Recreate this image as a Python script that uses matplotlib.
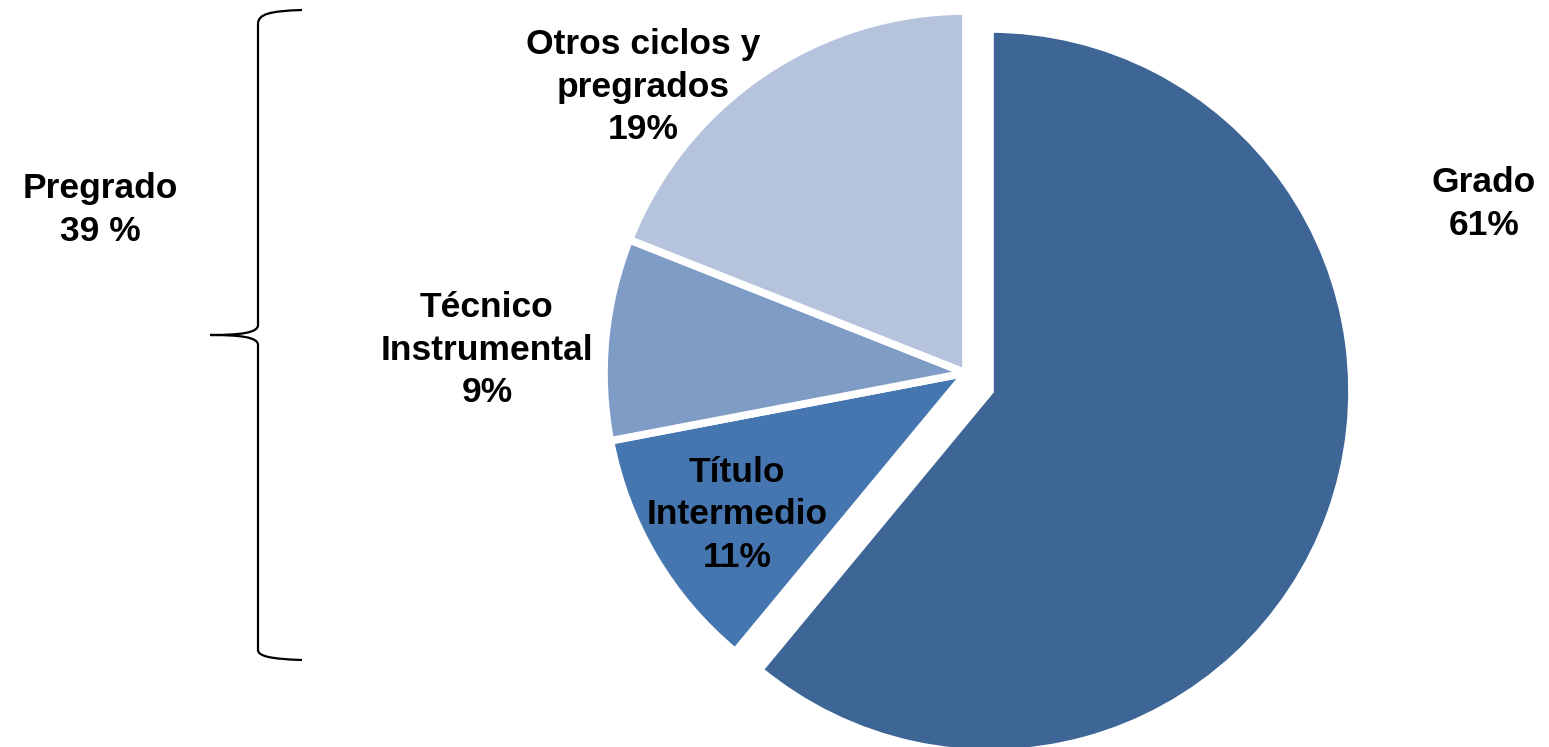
import matplotlib.pyplot as plt
from matplotlib.path import Path
from matplotlib.patches import PathPatch

plt.rcParams['font.family'] = ['Liberation Sans', 'DejaVu Sans']

# data
categorias = ['Grado', 'Título\nIntermedio', 'Técnico\nInstrumental', 'Otros ciclos y\npregrados']
valores = [61, 11, 9, 19]
colores = ['#3D6595', '#4676AF', '#7F9CC7', '#B5C3DD']
grupo_label = 'Pregrado'
grupo_valor = 39

W, H = 1549, 747
fig = plt.figure(figsize=(W / 100, H / 100), dpi=100)
ax = fig.add_axes([0, 0, 1, 1])

# pie in pixel units (y measured from the top of the image)
centro = (966, H - 373)
wedges, _ = ax.pie(valores, colors=colores, startangle=90, counterclock=False,
                   center=centro, radius=362,
                   wedgeprops=dict(edgecolor='white', linewidth=5.5),
                   frame=True)
# pull the "Grado" slice out
wedges[0].set_center((990, H - 391))

ax.set_xlim(0, W)
ax.set_ylim(0, H)
ax.set_aspect('equal')
ax.axis('off')

# label positions (pixel coords from top-left)
pos = [(1484, 204), (737, 515), (487, 350), (643, 87)]
for cat, v, (x, y) in zip(categorias, valores, pos):
    ax.text(x, H - y, f'{cat}\n{v}%', ha='center', va='center',
            fontsize=25.5, fontweight='bold', linespacing=1.38)

ax.text(100, H - 210, f'{grupo_label}\n{grupo_valor} %', ha='center', va='center',
        fontsize=25.5, fontweight='bold', linespacing=1.38)

# curly brace
def p(x, y):
    return (x, H - y)

verts = [p(302, 10), p(270, 11), p(258, 14), p(258, 24),
         p(258, 325),
         p(258, 333), p(240, 335), p(210, 335),
         p(240, 335), p(258, 337), p(258, 345),
         p(258, 650),
         p(258, 656), p(270, 659), p(302, 660)]
codes = [Path.MOVETO, Path.CURVE4, Path.CURVE4, Path.CURVE4,
         Path.LINETO,
         Path.CURVE4, Path.CURVE4, Path.CURVE4,
         Path.CURVE4, Path.CURVE4, Path.CURVE4,
         Path.LINETO,
         Path.CURVE4, Path.CURVE4, Path.CURVE4]
ax.add_patch(PathPatch(Path(verts, codes), facecolor='none', edgecolor='black', lw=1.6))

fig.savefig('out.png', dpi=100)
